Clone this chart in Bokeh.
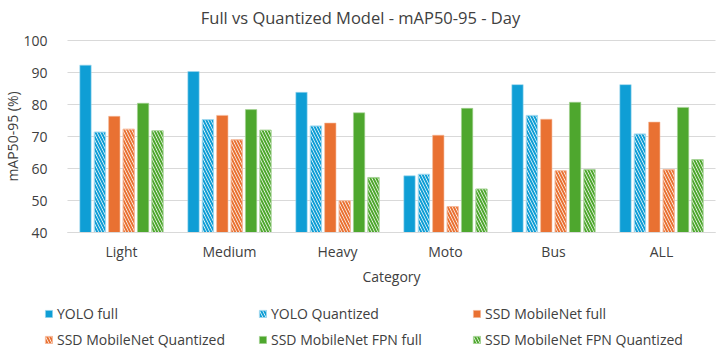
from bokeh.plotting import figure
from bokeh.models import (Range1d, Legend, LegendItem, ColumnDataSource,
                          FixedTicker, Label)
from bokeh.transform import dodge
from bokeh.embed import file_html
from bokeh.resources import INLINE

categories = ["Light", "Medium", "Heavy", "Moto", "Bus", "ALL"]
yolo_full = [92.3, 90.3, 83.8, 57.7, 86.2, 86.2]
yolo_quant = [71.4, 75.3, 73.3, 58.2, 76.6, 70.8]
ssd_full = [76.3, 76.6, 74.2, 70.4, 75.4, 74.5]
ssd_quant = [72.3, 69.0, 49.9, 48.1, 59.3, 59.7]
fpn_full = [80.4, 78.4, 77.4, 78.8, 80.7, 79.1]
fpn_quant = [71.8, 72.0, 57.2, 53.6, 59.7, 62.8]
series_names = ["YOLO full", "YOLO Quantized", "SSD MobileNet full",
                "SSD MobileNet Quantized", "SSD MobileNet FPN full",
                "SSD MobileNet FPN Quantized"]
y_ticks = [40, 50, 60, 70, 80, 90, 100]
y_min, y_max = 40, 100

FONT = "Open Sans"
TEXT = "#404040"
GRID = "#d9d9d9"
BLUE, ORANGE, GREEN = "#0F9ED5", "#E97132", "#4EA72E"
LIGHT = {BLUE: "#9fd8ef", ORANGE: "#f5b899", GREEN: "#a6d396"}

W, H = 720, 352
# plotting box inside the canvas (pixels): left, right, top, bottom
BOX_L, BOX_R, BOX_T, BOX_B = 67, 715, 40, 232
n = len(categories)
px_x = (BOX_R - BOX_L) / n
px_y = (BOX_B - BOX_T) / (y_max - y_min)

xpos = [i + 0.5 for i in range(n)]
source = ColumnDataSource(dict(x=xpos, s0=yolo_full, s1=yolo_quant,
                               s2=ssd_full, s3=ssd_quant, s4=fpn_full, s5=fpn_quant))

# the frame fills the whole canvas; axes are pinned inside it
p = figure(width=W, height=H, output_backend="svg", toolbar_location=None,
           x_range=Range1d(-BOX_L / px_x, n + (W - BOX_R) / px_x),
           y_range=Range1d(y_min - (H - BOX_B) / px_y, y_max + BOX_T / px_y),
           min_border=0)
p.outline_line_color = None
p.xgrid.visible = False
p.ygrid.visible = False

# horizontal gridlines across the category area
p.segment(x0=0, x1=n, y0=y_ticks, y1=y_ticks, line_color=GRID, line_width=1)

styles = [(BLUE, False), (BLUE, True), (ORANGE, False),
          (ORANGE, True), (GREEN, False), (GREEN, True)]
step = 0.1333
width = 0.105
items = []
for i, (color, hatched) in enumerate(styles):
    off = (i - 2.5) * step
    kw = dict(x=dodge("x", off), top=f"s{i}", bottom=y_min,
              width=width, source=source)
    if hatched:
        r = p.vbar(fill_color="white", line_color=LIGHT[color], line_width=1,
                   hatch_pattern="left_diagonal_line", hatch_color=color,
                   hatch_scale=6, hatch_weight=2, **kw)
    else:
        r = p.vbar(fill_color=color, line_color=LIGHT[color], line_width=0.6, **kw)
    items.append(LegendItem(label=series_names[i], renderers=[r]))

xa = p.xaxis[0]
xa.fixed_location = y_min
xa.bounds = (0, n)
xa.ticker = FixedTicker(ticks=xpos, minor_ticks=[])
xa.major_label_overrides = {x: c for x, c in zip(xpos, categories)}
xa.axis_label = "Category"
xa.axis_line_color = GRID
xa.major_label_standoff = 3
xa.axis_label_standoff = 3

ya = p.yaxis[0]
ya.fixed_location = 0
ya.bounds = (y_min, y_max)
ya.ticker = FixedTicker(ticks=y_ticks, minor_ticks=[])
ya.axis_label = "mAP50-95 (%)"
ya.axis_line_color = None
ya.major_label_standoff = 14
ya.axis_label_standoff = -2

for ax in (xa, ya):
    ax.axis_label_text_font = FONT
    ax.axis_label_text_font_size = "14px"
    ax.axis_label_text_font_style = "normal"
    ax.axis_label_text_color = TEXT
    ax.major_label_text_font = FONT
    ax.major_label_text_font_size = "14px"
    ax.major_label_text_color = TEXT
    ax.major_tick_line_color = None
    ax.minor_tick_line_color = None

p.add_layout(Label(x=W / 2, y=H - 17, x_units="screen", y_units="screen",
                   text="Full vs Quantized Model - mAP50-95 - Day",
                   text_align="center", text_baseline="middle",
                   text_font=FONT, text_font_size="16.5px", text_color=TEXT))

# two rows of three evenly spaced entries under the axis title
legend = Legend(items=items, ncols=3, orientation="horizontal",
                location=(44, 3.5),
                label_text_font=FONT, label_text_font_size="14px",
                label_text_color=TEXT, glyph_width=9, glyph_height=9,
                label_height=19, label_width=194, label_standoff=4, spacing=7,
                border_line_color=None, background_fill_alpha=0,
                padding=0, margin=0)
p.add_layout(legend, "center")

open("out.html", "w").write(file_html(p, INLINE))
